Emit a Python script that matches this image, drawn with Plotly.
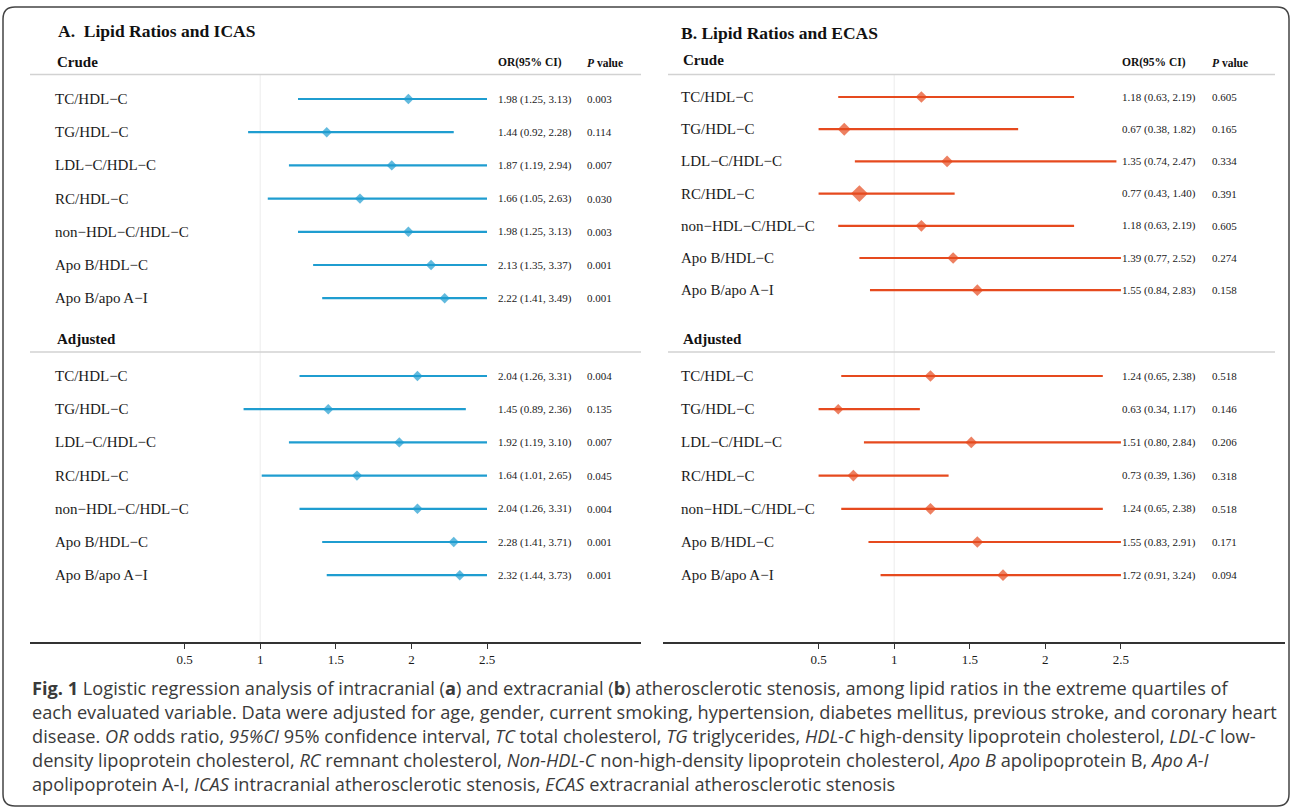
import plotly.graph_objects as go

W, H = 1292, 812

# ---------------- data ----------------
labels = ["TC/HDL\u2212C", "TG/HDL\u2212C", "LDL\u2212C/HDL\u2212C", "RC/HDL\u2212C",
          "non\u2212HDL\u2212C/HDL\u2212C", "Apo B/HDL\u2212C", "Apo B/apo A\u2212I"]

icas_crude_or = [1.98, 1.44, 1.87, 1.66, 1.98, 2.13, 2.22]
icas_crude_lo = [1.25, 0.92, 1.19, 1.05, 1.25, 1.35, 1.41]
icas_crude_hi = [3.13, 2.28, 2.94, 2.63, 3.13, 3.37, 3.49]
icas_crude_p = ["0.003", "0.114", "0.007", "0.030", "0.003", "0.001", "0.001"]

icas_adj_or = [2.04, 1.45, 1.92, 1.64, 2.04, 2.28, 2.32]
icas_adj_lo = [1.26, 0.89, 1.19, 1.01, 1.26, 1.41, 1.44]
icas_adj_hi = [3.31, 2.36, 3.10, 2.65, 3.31, 3.71, 3.73]
icas_adj_p = ["0.004", "0.135", "0.007", "0.045", "0.004", "0.001", "0.001"]

ecas_crude_or = [1.18, 0.67, 1.35, 0.77, 1.18, 1.39, 1.55]
ecas_crude_lo = [0.63, 0.38, 0.74, 0.43, 0.63, 0.77, 0.84]
ecas_crude_hi = [2.19, 1.82, 2.47, 1.40, 2.19, 2.52, 2.83]
ecas_crude_p = ["0.605", "0.165", "0.334", "0.391", "0.605", "0.274", "0.158"]

ecas_adj_or = [1.24, 0.63, 1.51, 0.73, 1.24, 1.55, 1.72]
ecas_adj_lo = [0.65, 0.34, 0.80, 0.39, 0.65, 0.83, 0.91]
ecas_adj_hi = [2.38, 1.17, 2.84, 1.36, 2.38, 2.91, 3.24]
ecas_adj_p = ["0.518", "0.146", "0.206", "0.318", "0.518", "0.171", "0.094"]

# marker (box) sizes as drawn
icas_crude_size = [8, 8, 8, 8, 8, 8, 8]
icas_adj_size = [8, 8, 8, 8, 8, 8, 8]
ecas_crude_size = [9, 10, 9, 13, 9, 9, 9]
ecas_adj_size = [9, 8, 9, 9, 9, 9, 9]

tick_vals = [0.5, 1, 1.5, 2, 2.5]
tick_text = ["0.5", "1", "1.5", "2", "2.5"]
clip_lo, clip_hi = 0.5, 2.5

caption_lines = [
    "<b>Fig. 1</b> Logistic regression analysis of intracranial (<b>a</b>) and extracranial (<b>b</b>) atherosclerotic stenosis, among lipid ratios in the extreme quartiles of",
    "each evaluated variable. Data were adjusted for age, gender, current smoking, hypertension, diabetes mellitus, previous stroke, and coronary heart",
    "disease. <i>OR</i> odds ratio, <i>95%CI</i> 95% confidence interval, <i>TC</i> total cholesterol, <i>TG</i> triglycerides, <i>HDL-C</i> high-density lipoprotein cholesterol, <i>LDL-C</i> low-",
    "density lipoprotein cholesterol, <i>RC</i> remnant cholesterol, <i>Non-HDL-C</i> non-high-density lipoprotein cholesterol, <i>Apo B</i> apolipoprotein B, <i>Apo A-I</i>",
    "apolipoprotein A-I, <i>ICAS</i> intracranial atherosclerotic stenosis, <i>ECAS</i> extracranial atherosclerotic stenosis",
]

# ---------------- layout helpers ----------------
SERIF = "Liberation Serif, Times New Roman, serif"
BLUE = "#1f9dd0"
RED = "#e64a1e"
OFF = 0  # page body margin removed via post_script

def px(x):
    return (x - OFF) / W

def py(y):
    return 1 - (y - OFF) / H

ROW0, STEP = 99.0, 33.2
AX_TOP, AX_BOT = 75, 642
def slot_from_px(p):
    return (p - ROW0) / STEP

yrange = [slot_from_px(AX_BOT), slot_from_px(AX_TOP)]
ADJ_OFF = slot_from_px(376)

panels = [
    dict(name="A", xa="x", ya="y", dom=[px(30), px(641)], rng=[-0.5225, 3.5185], color=BLUE,
         title="A.  Lipid Ratios and ICAS", tx=56, ty=31, hx=55, lx=53, orx=496, pvx=585,
         rule=[30, 641], crude_off=0.0, crude_step=1.0,
         crude=(icas_crude_or, icas_crude_lo, icas_crude_hi, icas_crude_p, icas_crude_size),
         adj=(icas_adj_or, icas_adj_lo, icas_adj_hi, icas_adj_p, icas_adj_size)),
    dict(name="B", xa="x2", ya="y2", dom=[px(663), px(1285)], rng=[-0.529, 3.585], color=RED,
         title="B. Lipid Ratios and ECAS", tx=679, ty=33, hx=681, lx=679, orx=1120, pvx=1210,
         rule=[668, 1275], crude_off=slot_from_px(97), crude_step=32.2 / STEP,
         crude=(ecas_crude_or, ecas_crude_lo, ecas_crude_hi, ecas_crude_p, ecas_crude_size),
         adj=(ecas_adj_or, ecas_adj_lo, ecas_adj_hi, ecas_adj_p, ecas_adj_size)),
]

fig = go.Figure()
annotations = []
shapes = []

def clip(v):
    return min(max(v, clip_lo), clip_hi)

for p in panels:
    ys_c = [p["crude_off"] + p["crude_step"] * i for i in range(len(labels))]
    ys_a = [ADJ_OFF + i for i in range(len(labels))]
    for (orv, lo, hi, pv, sz), ys in ((p["crude"], ys_c), (p["adj"], ys_a)):
        lx, ly = [], []
        for l, h, yv in zip(lo, hi, ys):
            lx += [clip(l), clip(h), None]
            ly += [yv, yv, None]
        fig.add_trace(go.Scatter(x=lx, y=ly, mode="lines", xaxis=p["xa"], yaxis=p["ya"],
                                 line=dict(color=p["color"], width=2.2), hoverinfo="skip",
                                 showlegend=False))
        fig.add_trace(go.Scatter(x=orv, y=ys, mode="markers", xaxis=p["xa"], yaxis=p["ya"],
                                 marker=dict(symbol="diamond", size=sz, color=p["color"],
                                             line=dict(width=0)),
                                 showlegend=False))
        for i, yv in enumerate(ys):
            ypx = ROW0 + STEP * yv
            annotations.append(dict(x=px(p["lx"]), y=py(ypx), xref="paper", yref="paper",
                                    text=labels[i], showarrow=False, xanchor="left", yanchor="middle",
                                    font=dict(family=SERIF, size=15, color="#1a1a1a")))
            annotations.append(dict(x=px(p["orx"]), y=py(ypx), xref="paper", yref="paper",
                                    text=f"{orv[i]:.2f} ({lo[i]:.2f}, {hi[i]:.2f})", showarrow=False,
                                    xanchor="left", yanchor="middle",
                                    font=dict(family=SERIF, size=11, color="#1a1a1a")))
            annotations.append(dict(x=px(p["pvx"]), y=py(ypx), xref="paper", yref="paper",
                                    text=pv[i], showarrow=False, xanchor="left", yanchor="middle",
                                    font=dict(family=SERIF, size=11, color="#1a1a1a")))
    # titles and headers
    annotations.append(dict(x=px(p["tx"]), y=py(p["ty"]), xref="paper", yref="paper",
                            text=f"<b>{p['title']}</b>", showarrow=False, xanchor="left", yanchor="middle",
                            font=dict(family=SERIF, size=17.5, color="#111")))
    crude_hdr_y = ROW0 + STEP * (p["crude_off"]) - 37
    for txt, yy in (("Crude", crude_hdr_y), ("Adjusted", 339)):
        annotations.append(dict(x=px(p["hx"]), y=py(yy), xref="paper", yref="paper",
                                text=f"<b>{txt}</b>", showarrow=False, xanchor="left", yanchor="middle",
                                font=dict(family=SERIF, size=15, color="#111")))
    annotations.append(dict(x=px(p["orx"]), y=py(63), xref="paper", yref="paper",
                            text="<b>OR(95% CI)</b>", showarrow=False, xanchor="left", yanchor="middle",
                            font=dict(family=SERIF, size=11.5, color="#111")))
    annotations.append(dict(x=px(p["pvx"]), y=py(63), xref="paper", yref="paper",
                            text="<b><i>P</i> value</b>", showarrow=False, xanchor="left", yanchor="middle",
                            font=dict(family=SERIF, size=11.5, color="#111")))
    # header rules
    for yy in (74.5, 352):
        shapes.append(dict(type="line", xref="paper", yref="paper", x0=px(p["rule"][0]), x1=px(p["rule"][1]),
                           y0=py(yy), y1=py(yy), line=dict(color="#d2d2d2", width=1.5)))
    # reference line at OR = 1
    shapes.append(dict(type="line", xref=p["xa"], yref="paper", x0=1, x1=1,
                       y0=py(AX_BOT), y1=py(AX_TOP), line=dict(color="#ececec", width=1), layer="below"))

# caption
for k, line in enumerate(caption_lines):
    annotations.append(dict(x=px(30), y=py(688 + 24 * k), xref="paper", yref="paper", text=line,
                            showarrow=False, xanchor="left", yanchor="middle",
                            font=dict(family="Open Sans, Noto Sans, sans-serif", size=18.2, color="#3a3a3a")))

# rounded frame
x0, x1, yt, yb = px(3), px(1289), py(7), py(806)
rx, ry = 12 / W, 12 / H
path = (f"M {x0+rx},{yt} L {x1-rx},{yt} Q {x1},{yt} {x1},{yt-ry} L {x1},{yb+ry} Q {x1},{yb} {x1-rx},{yb} "
        f"L {x0+rx},{yb} Q {x0},{yb} {x0},{yb+ry} L {x0},{yt-ry} Q {x0},{yt} {x0+rx},{yt} Z")
shapes.append(dict(type="path", xref="paper", yref="paper", path=path, line=dict(color="#444", width=1.5)))

axis_common = dict(tickvals=tick_vals, ticktext=tick_text, showline=True, linecolor="#333", linewidth=1.5,
                   ticks="outside", ticklen=5, tickwidth=1.2, tickcolor="#333", showgrid=False, zeroline=False,
                   tickfont=dict(family=SERIF, size=13, color="#1a1a1a"), fixedrange=True)
yaxis_common = dict(range=yrange, domain=[py(AX_BOT), py(AX_TOP)], visible=False, fixedrange=True)

fig.update_layout(
    width=W, height=H, margin=dict(l=0, r=0, t=0, b=0),
    paper_bgcolor="white", plot_bgcolor="rgba(0,0,0,0)",
    xaxis=dict(domain=panels[0]["dom"], range=panels[0]["rng"], anchor="y", **axis_common),
    xaxis2=dict(domain=panels[1]["dom"], range=panels[1]["rng"], anchor="y2", **axis_common),
    yaxis=dict(anchor="x", **yaxis_common),
    yaxis2=dict(anchor="x2", **yaxis_common),
    annotations=annotations, shapes=shapes, showlegend=False,
)

fig.write_html("out.html", config={"displayModeBar": False},
               post_script="document.body.style.margin='0px';document.body.style.overflow='hidden';")
